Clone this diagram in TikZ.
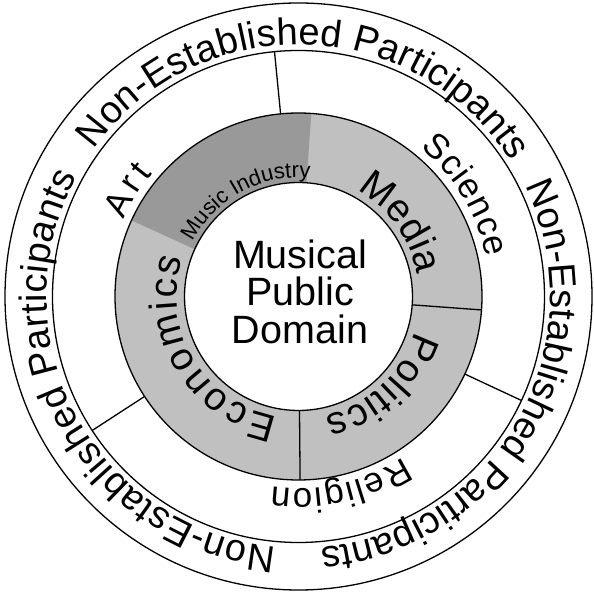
\documentclass[tikz,border=0pt]{standalone}
\usepackage{fontspec}
\setmainfont{Liberation Sans}
\usetikzlibrary{decorations.text}
\definecolor{ringgray}{RGB}{192,192,192}
\definecolor{industrygray}{RGB}{153,153,153}

\begin{document}
\begin{tikzpicture}[x=1pt,y=1pt,
  ringline/.style={black,line width=1.3pt},
  ringtext/.style 2 args={decorate,decoration={text along path,text align={fit to path},
      text={|\fontsize{#1}{#1}\selectfont|#2}}}]
\useasboundingbox (-298.5,-296.5) rectangle (295.5,296.5);

% Gray ring
\fill[ringgray,even odd rule] (0,0) circle (183.5) (0,0) circle (114);
\fill[industrygray] (86:114) arc[start angle=86,end angle=155.5,radius=114]
  -- (155.5:183.5) arc[start angle=155.5,end angle=86,radius=183.5] -- cycle;

% Circles
\draw[ringline] (0,0) circle (293.5);
\draw[ringline] (0,0) circle (246);
\draw[ringline] (0,0) circle (183.5);
\draw[ringline] (0,0) circle (114);

% Dividers
\draw[ringline] (-4.2:114) -- (-4.2:183.5);
\draw[ringline] (-89.5:114) -- (-89.5:183.5);
\draw[ringline] (95.6:183.5) -- (95.6:246);
\draw[ringline] (213:183.5) -- (213:246);
\draw[ringline] (-25:183.5) -- (-25:246);

% Centre
\node[align=center,inner sep=0pt,font=\fontsize{39.5}{37.5}\selectfont] (domain) at (1.5,5) {Musical\\Public\\Domain};

% Gray ring labels
\path[ringtext={22}{Music Industry}] (152.7:119) arc[start angle=152.7,end angle=85.9,radius=119];
\path[ringtext={39}{Economics}] (260:122) arc[start angle=260,end angle=161.7,radius=122];
\path[ringtext={39}{Media}] (61:121) arc[start angle=61,end angle=13,radius=121];
\path[ringtext={39}{Politics}] (-16.7:122) arc[start angle=-16.7,end angle=-77.4,radius=122];

% Middle ring labels
\path[ringtext={35}{Art}] (156.2:191) arc[start angle=156.2,end angle=140,radius=191];
\path[ringtext={35}{Science}] (50.6:192) arc[start angle=50.6,end angle=11.8,radius=192];
\path[ringtext={35}{Religion}] (-57:192) arc[start angle=-57,end angle=-98,radius=192];

% Outer ring labels
\path[ringtext={38}{Non-Established Participants}] (144.3:252) arc[start angle=144.3,end angle=32.4,radius=252];
\path[ringtext={38}{Non-Established Participants}] (26:252) arc[start angle=26,end angle=-84.7,radius=252];
\path[ringtext={38}{Non-Established Participants}] (264.9:252) arc[start angle=264.9,end angle=151.5,radius=252];

\end{tikzpicture}
\end{document}
